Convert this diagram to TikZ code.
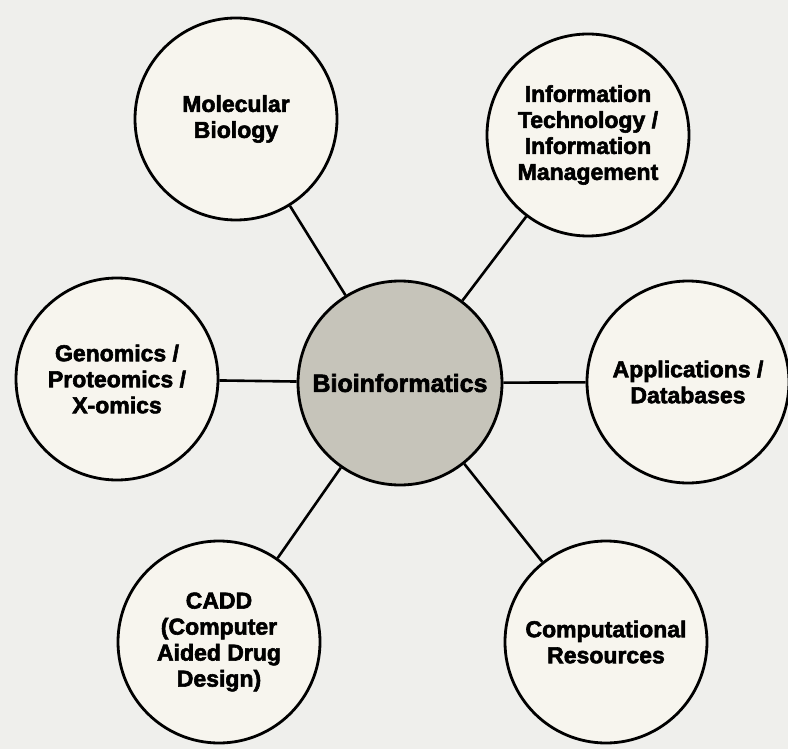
\documentclass[tikz,border=0pt]{standalone}
\usepackage{fontspec}
\setmainfont{Liberation Sans}[BoldFeatures={FakeBold=2.5}]
\definecolor{paper}{HTML}{EFEFEC}
\definecolor{disc}{HTML}{F7F5EE}
\definecolor{hub}{HTML}{C6C4BA}
\tikzset{
  topic/.style={circle, draw=black, line width=2.8pt, fill=disc, minimum size=202pt,
    inner sep=0pt, align=center, font=\bfseries\fontsize{23}{26}\selectfont},
  hubnode/.style={topic, fill=hub, minimum size=204pt, font=\bfseries\fontsize{25}{29}\selectfont},
  link/.style={line width=2.6pt, draw=black}
}
\begin{document}
\begin{tikzpicture}[x=1pt,y=-1pt]
\fill[paper] (0,0) rectangle (788,749);
\useasboundingbox (0,0) rectangle (788,749);
\node[hubnode] (bio) at (400,383) {Bioinformatics};
\node[topic] (mol) at (236,119) {Molecular\\Biology};
\node[topic] (info) at (588,135) {Information\\Technology /\\Information\\Management};
\node[topic] (gen) at (117,379) {Genomics /\\Proteomics /\\X-omics};
\node[topic] (app) at (688,382) {Applications /\\Databases};
\node[topic] (cadd) at (219,642) {CADD\\(Computer\\Aided Drug\\Design)};
\node[topic] (comp) at (606,642) {Computational\\Resources};
\draw[link] (bio) -- (mol);
\draw[link] (bio) -- (info);
\draw[link] (bio) -- (gen);
\draw[link] (bio) -- (app);
\draw[link] (bio) -- (cadd);
\draw[link] (bio) -- (comp);
\end{tikzpicture}
\end{document}
